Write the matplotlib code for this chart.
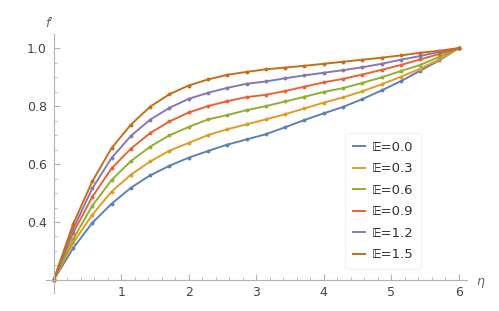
import numpy as np
import matplotlib
matplotlib.use("Agg")
import matplotlib.pyplot as plt

# sample positions (22 points from 0 to 6)
eta = np.linspace(0, 6, 22)

E_labels = ["0.0", "0.3", "0.6", "0.9", "1.2", "1.5"]
colors = ["#5E81B5", "#E19C24", "#8FB032", "#EB6235", "#8778B3", "#C56E1A"]

f_E00 = [0.2, 0.309, 0.397, 0.463, 0.518, 0.561, 0.594, 0.622, 0.645, 0.667, 0.685,
         0.703, 0.727, 0.752, 0.775, 0.797, 0.824, 0.854, 0.886, 0.922, 0.958, 1.0]
f_E03 = [0.2, 0.327, 0.425, 0.505, 0.563, 0.609, 0.646, 0.673, 0.700, 0.720, 0.737,
         0.754, 0.772, 0.792, 0.812, 0.830, 0.851, 0.875, 0.901, 0.929, 0.961, 1.0]
f_E06 = [0.2, 0.340, 0.456, 0.545, 0.610, 0.660, 0.699, 0.728, 0.754, 0.769, 0.786,
         0.800, 0.816, 0.832, 0.849, 0.862, 0.880, 0.899, 0.921, 0.942, 0.970, 1.0]
f_E09 = [0.2, 0.361, 0.487, 0.585, 0.653, 0.707, 0.747, 0.778, 0.800, 0.817, 0.831,
         0.839, 0.852, 0.867, 0.882, 0.894, 0.909, 0.925, 0.942, 0.961, 0.980, 1.0]
f_E12 = [0.2, 0.375, 0.516, 0.621, 0.697, 0.753, 0.794, 0.825, 0.846, 0.863, 0.877,
         0.885, 0.896, 0.906, 0.915, 0.924, 0.934, 0.946, 0.960, 0.973, 0.987, 1.0]
f_E15 = [0.2, 0.392, 0.540, 0.655, 0.736, 0.798, 0.841, 0.871, 0.892, 0.908, 0.918,
         0.927, 0.933, 0.939, 0.946, 0.953, 0.960, 0.967, 0.975, 0.984, 0.991, 1.0]
series = [f_E00, f_E03, f_E06, f_E09, f_E12, f_E15]

x_ticks = [1, 2, 3, 4, 5, 6]
y_ticks = [0.4, 0.6, 0.8, 1.0]

fig = plt.figure(figsize=(4.99, 3.11), dpi=100)
ax = fig.add_axes([0.0914, 0.0579, 0.844, 0.832])

for vals, lab, c in zip(series, E_labels, colors):
    ax.plot(eta, vals, color=c, lw=1.4, marker="o", ms=2.8, mew=0,
            solid_joinstyle="round", label="\U0001D53C=" + lab)

ax.set_xlim(-0.12, 6.12)
ax.set_ylim(0.155, 1.048)

axis_col = "#b3b3b3"
for s in ["top", "right"]:
    ax.spines[s].set_visible(False)
ax.spines["left"].set_position(("data", 0))
ax.spines["bottom"].set_position(("data", 0.2))
for s in ["left", "bottom"]:
    ax.spines[s].set_color(axis_col)
    ax.spines[s].set_linewidth(0.8)

ax.set_xticks(x_ticks)
ax.set_yticks(y_ticks)
ax.set_xticklabels([str(v) for v in x_ticks])
ax.set_yticklabels(["%.1f" % v for v in y_ticks])
ax.set_xticks(np.arange(0.2, 6.01, 0.2), minor=True)
ax.set_yticks(np.arange(0.25, 1.001, 0.05), minor=True)
ax.tick_params(which="major", direction="in", length=4, width=0.8, color=axis_col,
               labelsize=9, labelcolor="#444444")
ax.tick_params(which="minor", direction="in", length=2, width=0.6, color=axis_col)
ax.tick_params(axis="y", pad=5)
ax.tick_params(axis="x", pad=4)

ax.text(-0.02, 1.085, "f\u2032", transform=ax.transData, fontsize=9, style="italic",
        color="#666666", ha="right", va="center", clip_on=False)
ax.text(6.32, 0.195, "\u03b7", transform=ax.transData, fontsize=9, style="italic",
        color="#666666", ha="center", va="center", clip_on=False)

leg = ax.legend(loc="upper left", bbox_to_anchor=(0.695, 0.645), fontsize=9.5,
                handlelength=0.9, handletextpad=0.5, labelspacing=0.65,
                frameon=True, fancybox=True, borderpad=0.6)
leg.get_frame().set_edgecolor("#eeeeee")
leg.get_frame().set_linewidth(0.8)
for t in leg.get_texts():
    t.set_color("#333333")
for h in leg.legend_handles:
    h.set_marker("")

fig.savefig("out.png", dpi=100)
